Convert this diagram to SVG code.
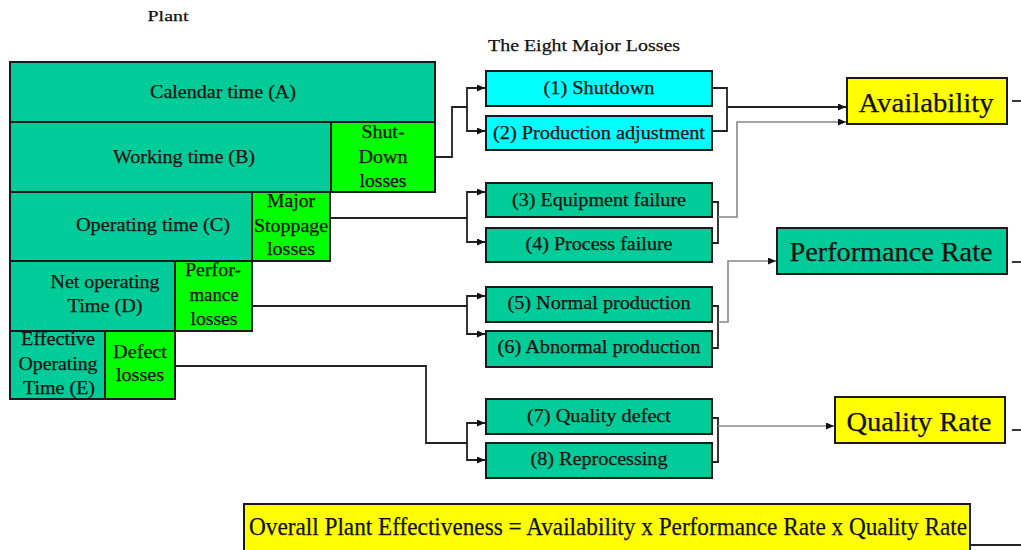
<svg xmlns="http://www.w3.org/2000/svg" width="1021" height="550" viewBox="0 0 1021 550" font-family="'Liberation Serif', 'Times New Roman', serif">
<defs>
<style>
text{font-family:'Liberation Serif','Times New Roman',serif}
.t{fill:#111;text-anchor:middle;stroke:#111;stroke-width:0.25}
.s{font-size:18px}
.b{font-size:27px}
.box{stroke:#1a1a1a;stroke-width:2}
.teal{fill:#00CC99}
.grn{fill:#00FF00}
.cy{fill:#00FFFF}
.yel{fill:#FFFF00}
.c{fill:none;stroke:#222;stroke-width:1.8}
.g{fill:none;stroke:#888;stroke-width:1.6}
</style>
<marker id="ah" markerUnits="userSpaceOnUse" markerWidth="9" markerHeight="8" refX="8" refY="3.5" orient="auto">
<path d="M0,0 L8,3.5 L0,7 z" fill="#111"/>
</marker>
</defs>
<rect width="1021" height="550" fill="#fff"/>

<text class="t" x="168" y="21" font-size="15" textLength="41" lengthAdjust="spacingAndGlyphs">Plant</text>
<text class="t" x="584" y="51" font-size="17" textLength="192" lengthAdjust="spacingAndGlyphs">The Eight Major Losses</text>

<g id="calendar"><rect class="box teal" x="10" y="62" width="425" height="60"/>
<text class="t s" x="223" y="98" textLength="146" lengthAdjust="spacingAndGlyphs">Calendar time (A)</text></g>
<g id="working"><rect class="box teal" x="10" y="122" width="321" height="70"/>
<text class="t s" x="184" y="163" textLength="142" lengthAdjust="spacingAndGlyphs">Working time (B)</text></g>
<g id="shutdown-losses"><rect class="box grn" x="331" y="122" width="104" height="70"/>
<text class="t s" x="383" y="138" textLength="43" lengthAdjust="spacingAndGlyphs">Shut-</text>
<text class="t s" x="383" y="163" textLength="49" lengthAdjust="spacingAndGlyphs">Down</text>
<text class="t s" x="383" y="187" textLength="47" lengthAdjust="spacingAndGlyphs">losses</text></g>
<g id="operating"><rect class="box teal" x="10" y="192" width="242" height="69"/>
<text class="t s" x="153" y="231" textLength="154" lengthAdjust="spacingAndGlyphs">Operating time (C)</text></g>
<g id="stoppage-losses"><rect class="box grn" x="252" y="192" width="78" height="69"/>
<text class="t s" x="291" y="207" textLength="48" lengthAdjust="spacingAndGlyphs">Major</text>
<text class="t s" x="291" y="232" textLength="74" lengthAdjust="spacingAndGlyphs">Stoppage</text>
<text class="t s" x="291" y="255" textLength="48" lengthAdjust="spacingAndGlyphs">losses</text></g>
<g id="net-operating"><rect class="box teal" x="10" y="261" width="165" height="70"/>
<text class="t s" x="105" y="288" textLength="109" lengthAdjust="spacingAndGlyphs">Net operating</text>
<text class="t s" x="105" y="312" textLength="75" lengthAdjust="spacingAndGlyphs">Time (D)</text></g>
<g id="performance-losses"><rect class="box grn" x="175" y="261" width="77" height="70"/>
<text class="t s" x="213" y="276" textLength="56" lengthAdjust="spacingAndGlyphs">Perfor-</text>
<text class="t s" x="214" y="301" textLength="49" lengthAdjust="spacingAndGlyphs">mance</text>
<text class="t s" x="214" y="325" textLength="47" lengthAdjust="spacingAndGlyphs">losses</text></g>
<g id="effective"><rect class="box teal" x="10" y="331" width="95" height="68"/>
<text class="t s" x="58" y="345" textLength="74" lengthAdjust="spacingAndGlyphs">Effective</text>
<text class="t s" x="58" y="370" textLength="79" lengthAdjust="spacingAndGlyphs">Operating</text>
<text class="t s" x="59" y="394" textLength="72" lengthAdjust="spacingAndGlyphs">Time (E)</text></g>
<g id="defect-losses"><rect class="box grn" x="105" y="331" width="70" height="68"/>
<text class="t s" x="140" y="358" textLength="54" lengthAdjust="spacingAndGlyphs">Defect</text>
<text class="t s" x="140" y="381" textLength="48" lengthAdjust="spacingAndGlyphs">losses</text></g>

<g id="loss1"><rect class="box cy" x="486" y="71" width="226" height="35"/>
<text class="t s" x="599" y="94" textLength="111" lengthAdjust="spacingAndGlyphs">(1) Shutdown</text></g>
<g id="loss2"><rect class="box cy" x="486" y="116" width="226" height="34"/>
<text class="t s" x="599" y="139" textLength="212" lengthAdjust="spacingAndGlyphs">(2) Production adjustment</text></g>
<g id="loss3"><rect class="box teal" x="486" y="183" width="226" height="34"/>
<text class="t s" x="599" y="206" textLength="174" lengthAdjust="spacingAndGlyphs">(3) Equipment failure</text></g>
<g id="loss4"><rect class="box teal" x="486" y="228" width="226" height="34"/>
<text class="t s" x="599" y="250" textLength="147" lengthAdjust="spacingAndGlyphs">(4) Process failure</text></g>
<g id="loss5"><rect class="box teal" x="486" y="287" width="226" height="35"/>
<text class="t s" x="599" y="309" textLength="183" lengthAdjust="spacingAndGlyphs">(5) Normal production</text></g>
<g id="loss6"><rect class="box teal" x="486" y="331" width="226" height="36"/>
<text class="t s" x="599" y="353" textLength="203" lengthAdjust="spacingAndGlyphs">(6) Abnormal production</text></g>
<g id="loss7"><rect class="box teal" x="486" y="399" width="226" height="35"/>
<text class="t s" x="599" y="422" textLength="144" lengthAdjust="spacingAndGlyphs">(7) Quality defect</text></g>
<g id="loss8"><rect class="box teal" x="486" y="443" width="226" height="35"/>
<text class="t s" x="599" y="465" textLength="137" lengthAdjust="spacingAndGlyphs">(8) Reprocessing</text></g>

<g id="availability"><rect class="box yel" x="847" y="78" width="160" height="46"/>
<text class="t b" x="926" y="112" textLength="135" lengthAdjust="spacingAndGlyphs">Availability</text></g>
<g id="performance-rate"><rect class="box teal" x="777" y="228" width="230" height="46"/>
<text class="t b" x="891" y="261" textLength="203" lengthAdjust="spacingAndGlyphs">Performance Rate</text></g>
<g id="quality-rate"><rect class="box yel" x="835" y="397" width="170" height="46"/>
<text class="t b" x="919" y="431" textLength="145" lengthAdjust="spacingAndGlyphs">Quality Rate</text></g>
<g id="overall"><rect class="box yel" x="244" y="504" width="726" height="60"/>
<text class="t" x="608" y="535" font-size="25" textLength="718" lengthAdjust="spacingAndGlyphs">Overall Plant Effectiveness = Availability x Performance Rate x Quality Rate</text></g>

<g id="connectors">
<path class="c" d="M435,157 H452 V107 H467 V88 H485" marker-end="url(#ah)"/>
<path class="c" d="M467,107 V131 H485" marker-end="url(#ah)"/>
<path class="c" d="M330,218 H467 V192 H485" marker-end="url(#ah)"/>
<path class="c" d="M467,218 V242 H485" marker-end="url(#ah)"/>
<path class="c" d="M252,306 H467 V296 H485" marker-end="url(#ah)"/>
<path class="c" d="M467,306 V334 H485" marker-end="url(#ah)"/>
<path class="c" d="M175,366 H426 V443 H467 V423 H485" marker-end="url(#ah)"/>
<path class="c" d="M467,443 V460 H485" marker-end="url(#ah)"/>
<path class="c" d="M712,88 H727 V131 H712"/>
<path class="c" d="M727,107 H846" marker-end="url(#ah)"/>
<path class="c" d="M712,202 H718 V243 H712"/>
<path class="g" d="M718,217 H737 V122 H846" marker-end="url(#ah)"/>
<path class="c" d="M712,306 H718 V348 H712"/>
<path class="g" d="M718,322 H728 V261 H776" marker-end="url(#ah)"/>
<path class="c" d="M712,418 H718 V462 H712"/>
<path class="g" d="M718,426 H834" marker-end="url(#ah)"/>
<path class="c" d="M1012,101 H1021"/>
<path class="c" d="M1012,262 H1021"/>
<path class="c" d="M1012,430 H1021"/>
<path class="c" d="M970,545 H1021"/>
</g>
</svg>
